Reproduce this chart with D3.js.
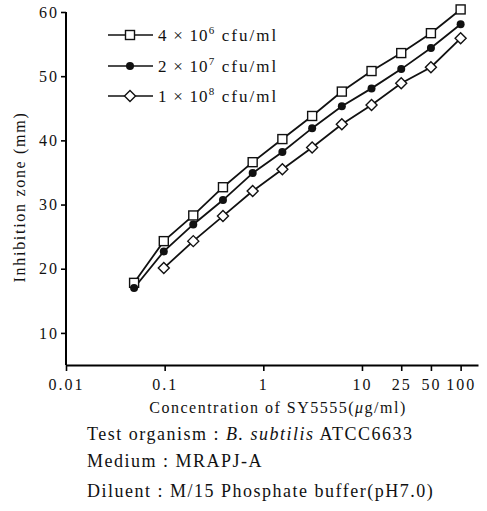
<!DOCTYPE html>
<html>
<head>
<meta charset="utf-8">
<script src="https://cdn.jsdelivr.net/npm/d3@7"></script>
<style>
  body { margin: 0; background: #fff; }
  svg { font-family: "Liberation Serif", "DejaVu Serif", serif; }
</style>
</head>
<body>
<div id="wrapper"></div>
<script>
// concentrations (two-fold dilutions, ug/ml)
const concentrations = [0.049, 0.098, 0.195, 0.39, 0.78, 1.56, 3.125, 6.25, 12.5, 25, 50, 100]

const seriesLow = [17.8, 24.3, 28.3, 32.7, 36.6, 40.2, 43.8, 47.6, 50.8, 53.6, 56.7, 60.4]
const seriesMid = [17.0, 22.7, 26.9, 30.7, 34.9, 38.2, 41.9, 45.3, 48.1, 51.1, 54.4, 58.1]
const seriesHigh = [null, 20.1, 24.3, 28.2, 32.1, 35.5, 38.9, 42.5, 45.5, 48.9, 51.4, 55.9]

const xTicks = [0.01, 0.1, 1, 10, 25, 50, 100]
const yTicks = [10, 20, 30, 40, 50, 60]

const legendLabels = [
  { base: "4×10", exp: "6" },
  { base: "2×10", exp: "7" },
  { base: "1×10", exp: "8" },
]

function drawChart() {
  const dimensions = {
    width: 487,
    height: 511,
    margin: { top: 12, right: 9, bottom: 146, left: 66 },
  }
  dimensions.boundedWidth = dimensions.width
    - dimensions.margin.left
    - dimensions.margin.right
  dimensions.boundedHeight = dimensions.height
    - dimensions.margin.top
    - dimensions.margin.bottom

  const svg = d3.select("#wrapper")
    .append("svg")
    .attr("width", dimensions.width)
    .attr("height", dimensions.height)

  const bounds = svg.append("g")
    .attr("transform", `translate(${dimensions.margin.left},${dimensions.margin.top})`)

  const xScale = d3.scaleLog()
    .domain([0.01, 150])
    .range([0, dimensions.boundedWidth])

  const yScale = d3.scaleLinear()
    .domain([5, 60])
    .range([dimensions.boundedHeight, 0])

  // axes
  const xAxis = d3.axisBottom(xScale)
    .tickValues(xTicks)
    .tickFormat(d => String(d))
    .tickSize(6)
    .tickSizeOuter(0)
  const xG = bounds.append("g")
    .attr("transform", `translate(0,${dimensions.boundedHeight})`)
    .call(xAxis)
  xG.select(".domain").attr("stroke-width", 2)
  xG.selectAll(".tick line").attr("stroke-width", 1.6)
  xG.selectAll(".tick text")
    .attr("font-size", 16)
    .attr("font-family", "Liberation Serif")
    .attr("fill", "#111")
    .attr("dy", "1.0em")
    .attr("letter-spacing", 2)

  const yAxis = d3.axisLeft(yScale)
    .tickValues(yTicks)
    .tickSize(5)
    .tickSizeOuter(0)
  const yG = bounds.append("g").call(yAxis)
  yG.select(".domain")
    .attr("stroke-width", 2)
    .attr("d", `M0,${yScale(5)}V${yScale(60)}`)
  yG.selectAll(".tick line").attr("stroke-width", 1.6)
  yG.selectAll(".tick text")
    .attr("font-size", 16)
    .attr("font-family", "Liberation Serif")
    .attr("fill", "#111")
    .attr("letter-spacing", 2)
    .attr("x", -7)

  // lines
  const makeLine = values => d3.line()
    .defined(d => d != null)
    .x((d, i) => xScale(concentrations[i]))
    .y(d => yScale(d))(values)

  const allSeries = [
    { values: seriesLow, marker: "square" },
    { values: seriesMid, marker: "circle" },
    { values: seriesHigh, marker: "diamond" },
  ]

  const drawMarker = (g, type) => {
    if (type === "square") {
      g.append("rect").attr("x", -4.5).attr("y", -4.5).attr("width", 9).attr("height", 9)
        .attr("fill", "#fff").attr("stroke", "#111").attr("stroke-width", 1.4)
    } else if (type === "circle") {
      g.append("circle").attr("r", 4).attr("fill", "#111")
    } else {
      g.append("path").attr("d", "M0,-5.5L5.5,0L0,5.5L-5.5,0Z")
        .attr("fill", "#fff").attr("stroke", "#111").attr("stroke-width", 1.4)
    }
  }

  allSeries.forEach(s => {
    bounds.append("path")
      .attr("d", makeLine(s.values))
      .attr("fill", "none")
      .attr("stroke", "#111")
      .attr("stroke-width", 1.8)
  })

  allSeries.forEach(s => {
    bounds.selectAll(null)
      .data(s.values.map((v, i) => ({ v, c: concentrations[i] })).filter(d => d.v != null))
      .join("g")
      .attr("transform", d => `translate(${xScale(d.c)},${yScale(d.v)})`)
      .each(function () { drawMarker(d3.select(this), s.marker) })
  })

  // legend
  const legendY = [35, 66, 96]
  const legend = svg.append("g")
  allSeries.forEach((s, i) => {
    const row = legend.append("g").attr("transform", `translate(0,${legendY[i]})`)
    row.append("line").attr("x1", 108).attr("x2", 153)
      .attr("stroke", "#111").attr("stroke-width", 1.6)
    const m = row.append("g").attr("transform", "translate(130,0)")
    drawMarker(m, s.marker)
    const t = row.append("text").attr("x", 158).attr("y", 6)
      .attr("font-size", 17).attr("fill", "#111").attr("letter-spacing", 1.2)
    t.append("tspan").text(legendLabels[i].base.replace("×", " × "))
    t.append("tspan").attr("dy", -7).attr("font-size", 11).text(legendLabels[i].exp)
    t.append("tspan").attr("dy", 7).attr("letter-spacing", 2).text(" cfu/ml")
  })

  // axis titles
  svg.append("text")
    .attr("transform", "translate(25,197) rotate(-90)")
    .attr("text-anchor", "middle")
    .attr("font-size", 16)
    .attr("letter-spacing", 1.7)
    .attr("fill", "#111")
    .text("Inhibition zone (mm)")

  const xTitle = svg.append("text")
    .attr("x", 278).attr("y", 413)
    .attr("text-anchor", "middle")
    .attr("font-size", 16)
    .attr("letter-spacing", 1.5)
    .attr("fill", "#111")
  xTitle.append("tspan").text("Concentration of  SY5555(")
  xTitle.append("tspan").attr("font-style", "italic").text("μ")
  xTitle.append("tspan").text("g/ml)")

  // notes
  const notes = svg.append("g").attr("font-size", 18).attr("letter-spacing", 1.5).attr("fill", "#111")
  const n1 = notes.append("text").attr("x", 87).attr("y", 440)
  n1.append("tspan").text("Test organism : ")
  n1.append("tspan").attr("font-style", "italic").text("B. subtilis")
  n1.append("tspan").text(" ATCC6633")
  notes.append("text").attr("x", 87).attr("y", 467).text("Medium : MRAPJ-A")
  notes.append("text").attr("x", 87).attr("y", 497).text("Diluent : M/15 Phosphate buffer(pH7.0)")
}

drawChart()
</script>
</body>
</html>
